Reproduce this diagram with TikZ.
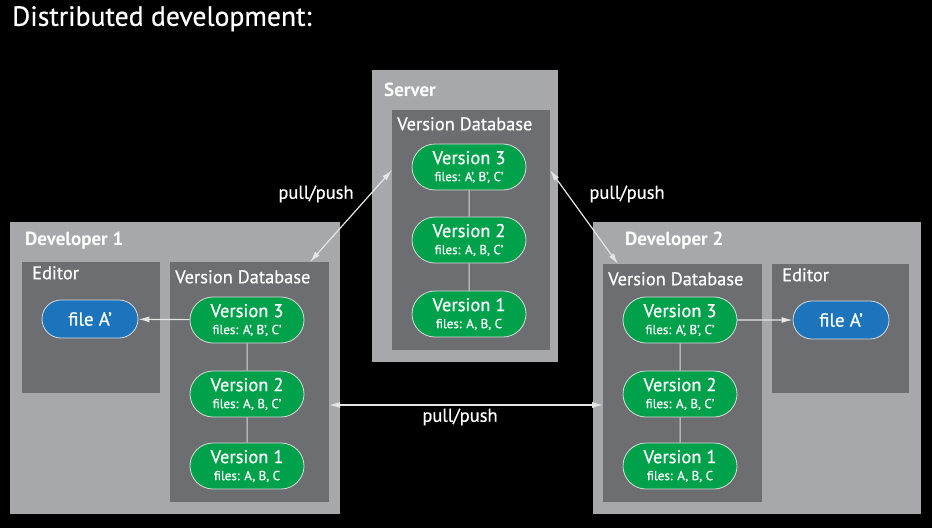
\documentclass[tikz,border=0pt]{standalone}
\usepackage{fontspec}
\setmainfont{PT Sans}[UprightFeatures={FakeBold=0.6}]
\usetikzlibrary{arrows.meta,positioning,shapes.misc}
\definecolor{outerg}{HTML}{A7A8AB}
\definecolor{innerg}{HTML}{6D6E71}
\definecolor{vgreen}{HTML}{00A14B}
\definecolor{fblue}{HTML}{1C75BC}
\tikzset{
  boxtitle/.style={text=white, font=\bfseries\fontsize{19}{21}\selectfont, anchor=north west, inner sep=0pt},
  subtitle/.style={text=white, font=\fontsize{18.4}{20}\selectfont, anchor=north west, inner sep=0pt},
  ver/.style={fill=vgreen, draw=white!85!black, line width=0.8pt, rounded rectangle, minimum width=114pt, minimum height=46pt, text=white, align=center, inner sep=0pt, font=\fontsize{18.5}{19}\selectfont},
  fileA/.style={fill=fblue, draw=white!85!black, line width=0.8pt, rounded rectangle, minimum width=96pt, minimum height=38pt, text=white, inner sep=0pt, font=\fontsize{19}{20}\selectfont},
  link/.style={draw=white!85!black, line width=1pt},
  sync/.style={draw=white!90!black, line width=1.2pt, {Latex[length=11pt,width=6pt]}-{Latex[length=11pt,width=6pt]}},
  open/.style={draw=white!90!black, line width=1.2pt, -{Latex[length=11pt,width=6pt]}},
  lbl/.style={text=white, font=\fontsize{18.5}{20}\selectfont, inner sep=0pt}
}
\newcommand{\vtext}[2]{#1\\[-2pt]{\fontsize{13}{14}\selectfont #2}}
\begin{document}
\begin{tikzpicture}[x=1pt,y=-1pt]
\fill[black] (0,0) rectangle (932,528);
\useasboundingbox (0,0) rectangle (932,528);
\node[text=white, anchor=north west, inner sep=0pt, font=\fontsize{27.7}{30}\selectfont] (title) at (12,6) {Distributed development:};

% Server
\fill[outerg] (372,70) rectangle (558,362);
\coordinate (srvL) at (392,170);
\coordinate (srvR) at (550,170);
\node[boxtitle] (srvt) at (384,83) {Server};
\fill[innerg] (392,110) rectangle (550,350);
\node[subtitle] (srvdb) at (397,117) {Version Database};
\node[ver] (s3) at (469,167) {\vtext{Version 3}{files: A’, B’, C’}};
\node[ver] (s2) at (469,240) {\vtext{Version 2}{files: A, B, C’}};
\node[ver] (s1) at (469,314) {\vtext{Version 1}{files: A, B, C}};
\draw[link] (s3) -- (s2);
\draw[link] (s2) -- (s1);

% Developer 1
\fill[outerg] (10,222) rectangle (340,514);
\node[boxtitle] (d1t) at (25,232) {Developer 1};
\fill[innerg] (22,262) rectangle (160,393);
\node[subtitle] (d1ed) at (32,266) {Editor};
\fill[innerg] (170,262) rectangle (329,502);
\coordinate (d1c) at (310,262);
\coordinate (d1r) at (329,405);
\node[subtitle] (d1db) at (175,270) {Version Database};
\node[ver] (a3) at (247,320) {\vtext{Version 3}{files: A’, B’, C’}};
\node[ver] (a2) at (247,394) {\vtext{Version 2}{files: A, B, C’}};
\node[ver] (a1) at (247,466) {\vtext{Version 1}{files: A, B, C}};
\node[fileA] (af) at (90,319) {file A’};
\draw[link] (a3) -- (a2);
\draw[link] (a2) -- (a1);
\draw[open] (a3) -- (af);

% Developer 2
\fill[outerg] (593,222) rectangle (921,514);
\node[boxtitle] (d2t) at (625,232) {Developer 2};
\fill[innerg] (603,264) rectangle (762,502);
\coordinate (d2c) at (618,264);
\coordinate (d2l) at (603,405);
\node[subtitle] (d2db) at (608,272) {Version Database};
\fill[innerg] (772,264) rectangle (909,393);
\node[subtitle] (d2ed) at (782,268) {Editor};
\node[ver] (b3) at (680,320) {\vtext{Version 3}{files: A’, B’, C’}};
\node[ver] (b2) at (680,394) {\vtext{Version 2}{files: A, B, C’}};
\node[ver] (b1) at (680,466) {\vtext{Version 1}{files: A, B, C}};
\node[fileA] (bf) at (841,320) {file A’};
\draw[link] (b3) -- (b2);
\draw[link] (b2) -- (b1);
\draw[open] (b3) -- (bf);

% sync arrows
\draw[sync] (srvL) -- (d1c);
\draw[sync] (srvR) -- (d2c);
\draw[sync] (d1r) -- (d2l);
\node[lbl] (l1) at (316,194) {pull/push};
\node[lbl] (l2) at (627,194) {pull/push};
\node[lbl] (l3) at (460,417) {pull/push};
\end{tikzpicture}
\end{document}
